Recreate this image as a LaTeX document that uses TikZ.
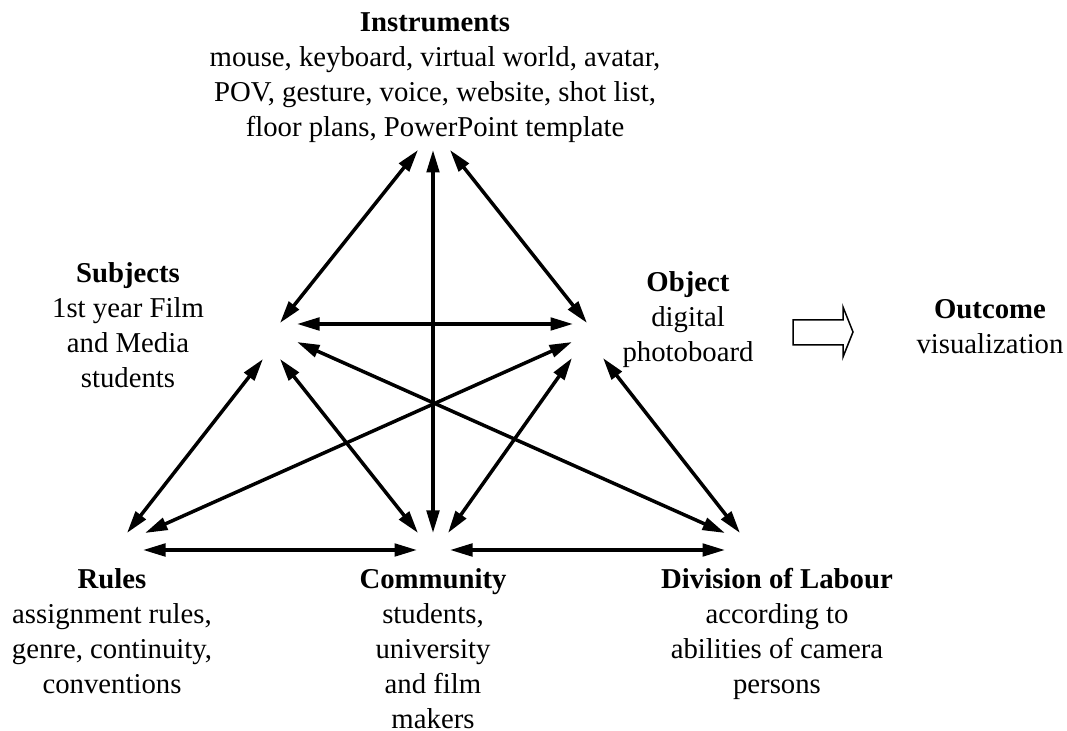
\documentclass[tikz,border=0pt]{standalone}
\usepackage{fontspec}
\setmainfont{Liberation Serif}
\usetikzlibrary{arrows.meta}
\tikzset{
  actArrow/.style={line width=1.4pt, {Triangle[length=9pt,width=5pt]}-{Triangle[length=9pt,width=5pt]}},
  actBlock/.style={align=center, inner sep=0pt, anchor=north, font=\fontsize{11.5}{14}\selectfont},
  outArrow/.style={line width=0.6pt, line join=miter}
}

\begin{document}
\begin{tikzpicture}[x=0.4pt, y=-0.4pt]
  \useasboundingbox (0,0) rectangle (1067,731);

  % the six corners
  \node[actBlock] (instr) at (435,12) {\textbf{Instruments}\\mouse, keyboard, virtual world, avatar,\\POV, gesture, voice, website, shot list,\\floor plans, PowerPoint template};
  \node[actBlock] (subj) at (128,262) {\textbf{Subjects}\\1st year Film\\and Media\\students};
  \node[actBlock] (obj) at (688,271) {\textbf{Object}\\digital\\photoboard};
  \node[actBlock] (rules) at (112,568) {\textbf{Rules}\\assignment rules,\\genre, continuity,\\conventions};
  \node[actBlock] (comm) at (433,568) {\textbf{Community}\\students,\\university\\and film\\makers};
  \node[actBlock] (labour) at (777,568) {\textbf{Division of Labour}\\according to\\abilities of camera\\persons};
  \node[actBlock] (outc) at (990,299) {\textbf{Outcome}\\visualization};

  % arrow ends
  \coordinate (insL) at (418,150);
  \coordinate (insC) at (433,150);
  \coordinate (insR) at (450,150);
  \coordinate (subN) at (280,323);
  \coordinate (subE) at (297,324);
  \coordinate (subSE) at (297,342);
  \coordinate (subSW) at (263,359);
  \coordinate (subS) at (280,359);
  \coordinate (objN) at (587,323);
  \coordinate (objW) at (573,324);
  \coordinate (objSW) at (572,342);
  \coordinate (objS) at (572,358);
  \coordinate (objSE) at (603,358);
  \coordinate (rulN) at (127,533);
  \coordinate (rulNE) at (145,533);
  \coordinate (rulE) at (143,550);
  \coordinate (comNW) at (418,533);
  \coordinate (comN) at (433,533);
  \coordinate (comNE) at (448,533);
  \coordinate (comW) at (417,550);
  \coordinate (comE) at (450,550);
  \coordinate (divNW) at (725,533);
  \coordinate (divN) at (740,533);
  \coordinate (divW) at (725,550);

  \draw[actArrow] (insL) -- (subN);
  \draw[actArrow] (insC) -- (comN);
  \draw[actArrow] (insR) -- (objN);
  \draw[actArrow] (subE) -- (objW);
  \draw[actArrow] (subSE) -- (divNW);
  \draw[actArrow] (subSW) -- (rulN);
  \draw[actArrow] (subS) -- (comNW);
  \draw[actArrow] (objSW) -- (rulNE);
  \draw[actArrow] (objS) -- (comNE);
  \draw[actArrow] (objSE) -- (divN);
  \draw[actArrow] (rulE) -- (comW);
  \draw[actArrow] (comE) -- (divW);

  % outcome arrow
  \draw[outArrow] (793,320) -- (843,320) -- (843,307) -- (853,332) -- (843,357)
    -- (843,345) -- (793,345) -- cycle;
\end{tikzpicture}
\end{document}
